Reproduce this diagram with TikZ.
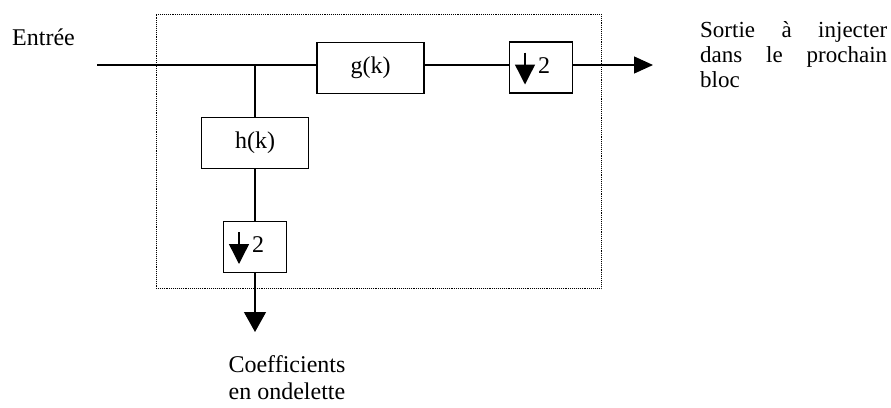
\documentclass[tikz,border=0pt]{standalone}
\usepackage{fontspec}
\setmainfont{Liberation Serif}
\usetikzlibrary{arrows.meta}
\begin{document}
\begin{tikzpicture}[x=1pt,y=-1pt,
  blk/.style={draw, line width=1.3pt, inner sep=0pt, minimum width=107pt, minimum height=51pt},
  dsbox/.style={draw, line width=1.3pt, inner sep=0pt, minimum width=63pt, minimum height=51pt},
  frame/.style={draw, densely dotted, line width=0.9pt, inner sep=0pt},
  wire/.style={line width=1.3pt},
  sig/.style={line width=1.3pt, -{Triangle[length=19pt,width=17pt]}},
  sigdown/.style={line width=1.3pt, -{Triangle[length=20pt,width=22pt]}},
  dsarrow/.style={line width=1.4pt, -{Triangle[length=20pt,width=20pt]}},
  lbl/.style={font=\fontsize{24}{27}\selectfont, inner sep=0pt},
]
\useasboundingbox (0,0) rectangle (891,407);

% dotted outline of the decomposition stage
\node[frame, minimum width=445pt, minimum height=274pt] (stage) at (378.5,151) {};

% filters and decimators
\node[blk, lbl] (g) at (370.5,68) {g(k)};
\node[blk, lbl] (h) at (255,143) {h(k)};
\node[dsbox] (d1) at (541,67.5) {};
\node[dsbox] (d2) at (255,247) {};

% decimation symbols
\draw[dsarrow] ([xshift=-16pt,yshift=15pt]d1.center) -- ([xshift=-16pt,yshift=-17pt]d1.center);
\node[lbl] (d1n) at ([xshift=3pt,yshift=2pt]d1.center) {2};
\draw[dsarrow] ([xshift=-16pt,yshift=15pt]d2.center) -- ([xshift=-16pt,yshift=-17pt]d2.center);
\node[lbl] (d2n) at ([xshift=3pt,yshift=2pt]d2.center) {2};

% signal path
\coordinate (in) at (97,65);
\coordinate (out) at (653,65);
\coordinate (cout) at (255,332);
\draw[wire] (in) -- (in -| g.west);
\draw[wire] (in -| g.east) -- (in -| d1.west);
\draw[sig] (in -| d1.east) -- (out);
\draw[wire] (in -| h.north) -- (h.north);
\draw[wire] (h.south) -- (d2.north);
\draw[sigdown] (d2.south) -- (cout);

% labels
\node[lbl, anchor=base west] (entree) at (12,45) {Entrée};
\node[lbl, font=\fontsize{23}{25}\selectfont, anchor=north west, align=left] (sortie) at (700,21.5)
  {\makebox[187pt][s]{Sortie à injecter}\\\makebox[187pt][s]{dans le prochain}\\bloc};
\node[lbl, anchor=north, align=center] (coef) at (287,355.5) {Coefficients\\en ondelette};
\end{tikzpicture}
\end{document}
